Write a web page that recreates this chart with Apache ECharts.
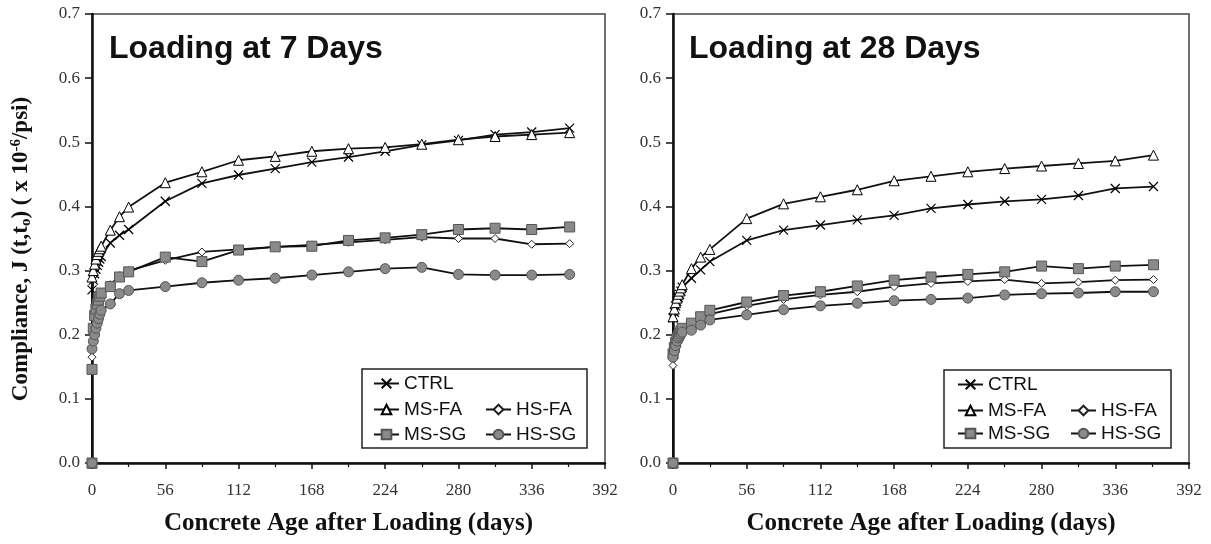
<!DOCTYPE html>
<html>
<head>
<meta charset="utf-8">
<script src="https://cdn.jsdelivr.net/npm/echarts@6/dist/echarts.min.js"></script>
<style>
html,body{margin:0;padding:0;background:#fff;}
#c{width:1211px;height:544px;}
</style>
</head>
<body>
<div id="c"></div>
<script>
// ---- data ----
const days = [0, 0, 1, 2, 3, 4, 5, 6, 7, 14, 21, 28, 56, 84, 112, 140, 168, 196, 224, 252, 280, 308, 336, 365];
const xTicks = [0, 56, 112, 168, 224, 280, 336, 392];
const yTicks = [0.0, 0.1, 0.2, 0.3, 0.4, 0.5, 0.6, 0.7];
const seriesNames = ['CTRL', 'MS-FA', 'HS-FA', 'MS-SG', 'HS-SG'];
const panelTitles = ['Loading at 7 Days', 'Loading at 28 Days'];

// Loading at 7 days
const ctrl7 = [0, 0.270, 0.285, 0.295, 0.302, 0.308, 0.313, 0.318, 0.322, 0.343, 0.355, 0.364, 0.408, 0.436, 0.449, 0.459, 0.469, 0.477, 0.486, 0.496, 0.503, 0.512, 0.516, 0.522];
const msfa7 = [0, 0.290, 0.300, 0.310, 0.318, 0.325, 0.330, 0.334, 0.338, 0.363, 0.384, 0.399, 0.437, 0.454, 0.472, 0.478, 0.486, 0.490, 0.492, 0.497, 0.504, 0.509, 0.512, 0.515];
const hsfa7 = [0, 0.165, 0.190, 0.210, 0.225, 0.235, 0.245, 0.252, 0.258, 0.278, 0.292, 0.300, 0.316, 0.329, 0.333, 0.337, 0.340, 0.344, 0.348, 0.352, 0.350, 0.350, 0.341, 0.342];
const mssg7 = [0, 0.146, 0.210, 0.230, 0.240, 0.248, 0.254, 0.260, 0.265, 0.275, 0.290, 0.298, 0.321, 0.314, 0.332, 0.337, 0.338, 0.347, 0.351, 0.356, 0.364, 0.366, 0.364, 0.368];
const hssg7 = [0, 0.178, 0.190, 0.200, 0.210, 0.218, 0.225, 0.232, 0.238, 0.248, 0.264, 0.269, 0.275, 0.281, 0.285, 0.288, 0.293, 0.298, 0.303, 0.305, 0.294, 0.293, 0.293, 0.294];

// Loading at 28 days
const ctrl28 = [0, 0.226, 0.235, 0.245, 0.252, 0.258, 0.263, 0.268, 0.274, 0.288, 0.301, 0.314, 0.347, 0.363, 0.371, 0.379, 0.386, 0.397, 0.403, 0.408, 0.411, 0.417, 0.428, 0.431];
const msfa28 = [0, 0.228, 0.240, 0.250, 0.257, 0.263, 0.268, 0.273, 0.278, 0.303, 0.321, 0.333, 0.381, 0.404, 0.415, 0.426, 0.440, 0.447, 0.454, 0.459, 0.463, 0.467, 0.471, 0.480];
const hsfa28 = [0, 0.152, 0.170, 0.180, 0.187, 0.192, 0.196, 0.200, 0.204, 0.215, 0.225, 0.232, 0.245, 0.255, 0.262, 0.267, 0.275, 0.280, 0.283, 0.286, 0.280, 0.282, 0.285, 0.286];
const mssg28 = [0, 0.170, 0.180, 0.188, 0.194, 0.198, 0.202, 0.206, 0.210, 0.218, 0.228, 0.238, 0.251, 0.261, 0.267, 0.276, 0.285, 0.290, 0.294, 0.298, 0.307, 0.303, 0.307, 0.309];
const hssg28 = [0, 0.165, 0.175, 0.183, 0.190, 0.195, 0.198, 0.201, 0.204, 0.207, 0.215, 0.223, 0.231, 0.239, 0.245, 0.249, 0.253, 0.255, 0.257, 0.262, 0.264, 0.265, 0.267, 0.267];

// ---- styling ----
const SERIF = '"Liberation Serif","Times New Roman",serif';
const SANS = '"Liberation Sans",Arial,sans-serif';
const markerStyles = {
  'CTRL':  {symbol: 'path://M0,0L10,10M10,0L0,10', symbolSize: 9, itemStyle: {color: '#000', borderColor: '#000', borderWidth: 1.2}},
  'MS-FA': {symbol: 'triangle', symbolSize: 10, itemStyle: {color: '#fff', borderColor: '#000', borderWidth: 1}},
  'HS-FA': {symbol: 'diamond', symbolSize: 8, itemStyle: {color: '#fff', borderColor: '#222', borderWidth: 1}},
  'MS-SG': {symbol: 'rect', symbolSize: 10, itemStyle: {color: '#8a8a8a', borderColor: '#555', borderWidth: 1}},
  'HS-SG': {symbol: 'circle', symbolSize: 10, itemStyle: {color: '#8a8a8a', borderColor: '#555', borderWidth: 1}}
};

function pairs(vals) { return days.map((d, i) => [d, vals[i]]); }

function mkSeries(name, vals, panel) {
  const m = markerStyles[name];
  return {
    name: name, type: 'line',
    xAxisIndex: panel * 2, yAxisIndex: panel,
    data: pairs(vals),
    symbol: m.symbol, symbolSize: m.symbolSize, showAllSymbol: true,
    itemStyle: m.itemStyle,
    lineStyle: {color: '#111', width: 1.8},
    clip: false, animation: false
  };
}

const panelData = [
  [ctrl7, msfa7, hsfa7, mssg7, hssg7],
  [ctrl28, msfa28, hsfa28, mssg28, hssg28]
];

const grids = [
  {left: 92, top: 14, width: 513, height: 449},
  {left: 673, top: 14, width: 516, height: 449}
];

const xAxes = [];
const yAxes = [];
grids.forEach((g, p) => {
  xAxes.push({
    type: 'value', gridIndex: p, min: xTicks[0], max: xTicks[xTicks.length - 1], interval: 56,
    name: 'Concrete Age after Loading (days)', nameLocation: 'middle', nameGap: 48,
    nameTextStyle: {fontFamily: SERIF, fontWeight: 'bold', fontSize: 25, color: '#111'},
    axisLine: {show: true, onZero: false, lineStyle: {color: '#111', width: 2.5}},
    axisTick: {show: true, inside: false, length: 6, lineStyle: {color: '#111', width: 1.5}},
    axisLabel: {fontFamily: SERIF, fontSize: 17, color: '#333', margin: 19},
    splitLine: {show: false}
  });
  xAxes.push({
    type: 'value', gridIndex: p, min: xTicks[0], max: xTicks[xTicks.length - 1], interval: 56,
    axisLine: {show: false},
    axisTick: {show: true, inside: true, length: 6, lineStyle: {color: '#111', width: 1.5}},
    minorTick: {show: true, splitNumber: 2, length: 4, lineStyle: {color: '#111', width: 1.2}},
    axisLabel: {show: false},
    splitLine: {show: false}
  });
  yAxes.push({
    type: 'value', gridIndex: p, min: yTicks[0], max: yTicks[yTicks.length - 1], interval: 0.1,
    name: p === 0 ? 'Compliance, J (t,t{sub|o}) ( x 10{sup|-6}/psi)' : '',
    nameLocation: 'middle', nameGap: 58, nameRotate: 90,
    nameTextStyle: {
      fontFamily: SERIF, fontWeight: 'bold', fontSize: 23, color: '#111',
      padding: [0, 21, 0, 0],
      rich: {
        sub: {fontFamily: SERIF, fontWeight: 'bold', fontSize: 15, color: '#111', padding: [9, 0, 0, 0]},
        sup: {fontFamily: SERIF, fontWeight: 'bold', fontSize: 15, color: '#111', padding: [0, 0, 10, 0]}
      }
    },
    axisLine: {show: true, onZero: false, lineStyle: {color: '#111', width: 2.5}},
    axisTick: {show: true, inside: false, length: 7, lineStyle: {color: '#111', width: 1.5}},
    axisLabel: {fontFamily: SERIF, fontSize: 17, color: '#333', margin: 12, formatter: v => v.toFixed(1)},
    splitLine: {show: false}
  });
});

const series = [];
panelData.forEach((arrs, p) => {
  arrs.forEach((vals, i) => series.push(mkSeries(seriesNames[i], vals, p)));
});

// legends: one per item for exact placement
const legendPos = [
  {x1: 373, x2: 485, rows: [374, 400, 425]},
  {x1: 957, x2: 1070, rows: [375, 401, 424]}
];
const legends = [];
legendPos.forEach(lp => {
  const items = [
    ['CTRL', lp.x1, lp.rows[0]],
    ['MS-FA', lp.x1, lp.rows[1]], ['HS-FA', lp.x2, lp.rows[1]],
    ['MS-SG', lp.x1, lp.rows[2]], ['HS-SG', lp.x2, lp.rows[2]]
  ];
  items.forEach(it => legends.push({
    data: [it[0]], left: it[1], top: it[2], padding: 0,
    itemWidth: 25, itemHeight: 12, selectedMode: false,
    textStyle: {fontFamily: SANS, fontSize: 19, color: '#111'}
  }));
});

const option = {
  backgroundColor: '#fff',
  animation: false,
  grid: grids.map(g => Object.assign({show: true, borderColor: '#444', borderWidth: 1.5, backgroundColor: 'transparent'}, g)),
  xAxis: xAxes,
  yAxis: yAxes,
  title: [
    {text: panelTitles[0], left: 109, top: 33, padding: 0, textStyle: {fontFamily: SANS, fontWeight: 'bold', fontSize: 32, color: '#111'}},
    {text: panelTitles[1], left: 689, top: 33, padding: 0, textStyle: {fontFamily: SANS, fontWeight: 'bold', fontSize: 32, color: '#111'}}
  ],
  legend: legends,
  graphic: [
    {type: 'rect', shape: {x: 362, y: 369, width: 225, height: 79}, style: {fill: 'none', stroke: '#222', lineWidth: 1.5}, z: 1},
    {type: 'rect', shape: {x: 944, y: 370, width: 227, height: 78}, style: {fill: 'none', stroke: '#222', lineWidth: 1.5}, z: 1}
  ],
  series: series
};

const chart = echarts.init(document.getElementById('c'), null, {renderer: 'canvas'});
chart.setOption(option);
</script>
</body>
</html>
